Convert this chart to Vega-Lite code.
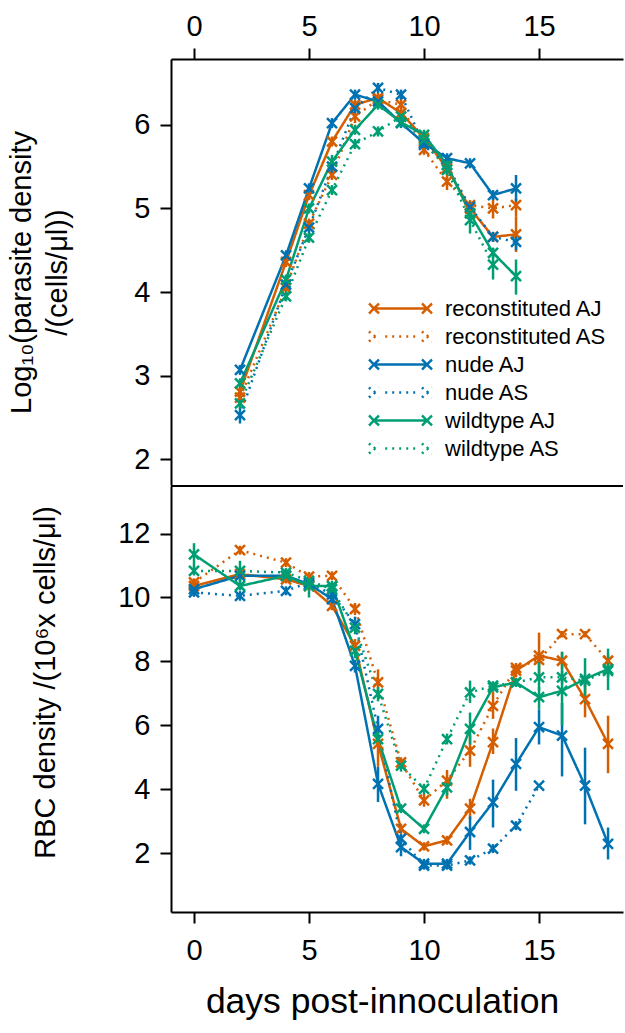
{
  "$schema": "https://vega.github.io/schema/vega-lite/v6.json",
  "background": "white",
  "padding": {"left": 7, "top": 12, "right": 0, "bottom": 0},
  "spacing": 0,
  "config": {
    "view": {"stroke": null},
    "font": "Liberation Sans",
    "axis": {
      "grid": false, "domainColor": "black", "domainWidth": 2, "tickColor": "black", "tickWidth": 2, "tickSize": 11,
      "labelFontSize": 29, "titleFontSize": 29, "titleFontWeight": "normal", "labelColor": "black", "titleColor": "black",
      "labelFont": "Liberation Sans", "titleFont": "Liberation Sans"
    },
    "legend": {"labelFont": "Liberation Sans"}
  },
  "resolve": {"legend": {"color": "independent", "strokeDash": "independent"}},
  "datasets": {
    "para": [
      {"day": 2, "group": "reconstituted AJ", "v": 2.81, "lo": 2.75, "hi": 2.87},
      {"day": 4, "group": "reconstituted AJ", "v": 4.36, "lo": 4.3, "hi": 4.42},
      {"day": 5, "group": "reconstituted AJ", "v": 5.16, "lo": 5.1, "hi": 5.22},
      {"day": 6, "group": "reconstituted AJ", "v": 5.8, "lo": 5.74, "hi": 5.86},
      {"day": 7, "group": "reconstituted AJ", "v": 6.24, "lo": 6.18, "hi": 6.3},
      {"day": 8, "group": "reconstituted AJ", "v": 6.32, "lo": 6.26, "hi": 6.38},
      {"day": 9, "group": "reconstituted AJ", "v": 6.14, "lo": 6.08, "hi": 6.2},
      {"day": 10, "group": "reconstituted AJ", "v": 5.84, "lo": 5.78, "hi": 5.9},
      {"day": 11, "group": "reconstituted AJ", "v": 5.48, "lo": 5.4, "hi": 5.56},
      {"day": 12, "group": "reconstituted AJ", "v": 5.0, "lo": 4.92, "hi": 5.08},
      {"day": 13, "group": "reconstituted AJ", "v": 4.66, "lo": 4.6, "hi": 4.72},
      {"day": 14, "group": "reconstituted AJ", "v": 4.69, "lo": 4.48, "hi": 4.9},
      {"day": 2, "group": "reconstituted AS", "v": 2.74, "lo": 2.68, "hi": 2.8},
      {"day": 4, "group": "reconstituted AS", "v": 4.05, "lo": 3.99, "hi": 4.11},
      {"day": 5, "group": "reconstituted AS", "v": 4.82, "lo": 4.76, "hi": 4.88},
      {"day": 6, "group": "reconstituted AS", "v": 5.4, "lo": 5.34, "hi": 5.46},
      {"day": 7, "group": "reconstituted AS", "v": 6.1, "lo": 6.02, "hi": 6.18},
      {"day": 8, "group": "reconstituted AS", "v": 6.3, "lo": 6.24, "hi": 6.36},
      {"day": 9, "group": "reconstituted AS", "v": 6.24, "lo": 6.16, "hi": 6.32},
      {"day": 10, "group": "reconstituted AS", "v": 5.7, "lo": 5.64, "hi": 5.76},
      {"day": 11, "group": "reconstituted AS", "v": 5.32, "lo": 5.22, "hi": 5.42},
      {"day": 12, "group": "reconstituted AS", "v": 5.04, "lo": 4.98, "hi": 5.1},
      {"day": 13, "group": "reconstituted AS", "v": 5.0, "lo": 4.88, "hi": 5.12},
      {"day": 14, "group": "reconstituted AS", "v": 5.04, "lo": 4.9, "hi": 5.12},
      {"day": 2, "group": "nude AJ", "v": 3.07, "lo": 3.01, "hi": 3.13},
      {"day": 4, "group": "nude AJ", "v": 4.44, "lo": 4.38, "hi": 4.5},
      {"day": 5, "group": "nude AJ", "v": 5.24, "lo": 5.18, "hi": 5.3},
      {"day": 6, "group": "nude AJ", "v": 6.02, "lo": 5.96, "hi": 6.08},
      {"day": 7, "group": "nude AJ", "v": 6.36, "lo": 6.3, "hi": 6.42},
      {"day": 8, "group": "nude AJ", "v": 6.28, "lo": 6.22, "hi": 6.34},
      {"day": 9, "group": "nude AJ", "v": 6.02, "lo": 5.96, "hi": 6.08},
      {"day": 10, "group": "nude AJ", "v": 5.78, "lo": 5.72, "hi": 5.84},
      {"day": 11, "group": "nude AJ", "v": 5.6, "lo": 5.54, "hi": 5.66},
      {"day": 12, "group": "nude AJ", "v": 5.54, "lo": 5.48, "hi": 5.6},
      {"day": 13, "group": "nude AJ", "v": 5.16, "lo": 5.1, "hi": 5.22},
      {"day": 14, "group": "nude AJ", "v": 5.24, "lo": 5.08, "hi": 5.4},
      {"day": 2, "group": "nude AS", "v": 2.53, "lo": 2.43, "hi": 2.63},
      {"day": 4, "group": "nude AS", "v": 4.09, "lo": 4.03, "hi": 4.15},
      {"day": 5, "group": "nude AS", "v": 4.77, "lo": 4.69, "hi": 4.85},
      {"day": 6, "group": "nude AS", "v": 5.5, "lo": 5.42, "hi": 5.58},
      {"day": 7, "group": "nude AS", "v": 6.2, "lo": 6.14, "hi": 6.26},
      {"day": 8, "group": "nude AS", "v": 6.44, "lo": 6.38, "hi": 6.5},
      {"day": 9, "group": "nude AS", "v": 6.36, "lo": 6.3, "hi": 6.42},
      {"day": 10, "group": "nude AS", "v": 5.76, "lo": 5.7, "hi": 5.82},
      {"day": 11, "group": "nude AS", "v": 5.52, "lo": 5.46, "hi": 5.58},
      {"day": 12, "group": "nude AS", "v": 5.02, "lo": 4.96, "hi": 5.08},
      {"day": 13, "group": "nude AS", "v": 4.66, "lo": 4.6, "hi": 4.72},
      {"day": 14, "group": "nude AS", "v": 4.6, "lo": 4.5, "hi": 4.7},
      {"day": 2, "group": "wildtype AJ", "v": 2.91, "lo": 2.85, "hi": 2.97},
      {"day": 4, "group": "wildtype AJ", "v": 4.15, "lo": 4.09, "hi": 4.21},
      {"day": 5, "group": "wildtype AJ", "v": 5.0, "lo": 4.94, "hi": 5.06},
      {"day": 6, "group": "wildtype AJ", "v": 5.56, "lo": 5.48, "hi": 5.64},
      {"day": 7, "group": "wildtype AJ", "v": 5.94, "lo": 5.88, "hi": 6.0},
      {"day": 8, "group": "wildtype AJ", "v": 6.24, "lo": 6.18, "hi": 6.3},
      {"day": 9, "group": "wildtype AJ", "v": 6.03, "lo": 5.97, "hi": 6.09},
      {"day": 10, "group": "wildtype AJ", "v": 5.88, "lo": 5.82, "hi": 5.94},
      {"day": 11, "group": "wildtype AJ", "v": 5.52, "lo": 5.44, "hi": 5.6},
      {"day": 12, "group": "wildtype AJ", "v": 4.94, "lo": 4.86, "hi": 5.02},
      {"day": 13, "group": "wildtype AJ", "v": 4.47, "lo": 4.41, "hi": 4.53},
      {"day": 14, "group": "wildtype AJ", "v": 4.19, "lo": 3.97, "hi": 4.39},
      {"day": 2, "group": "wildtype AS", "v": 2.67, "lo": 2.61, "hi": 2.73},
      {"day": 4, "group": "wildtype AS", "v": 3.95, "lo": 3.89, "hi": 4.01},
      {"day": 5, "group": "wildtype AS", "v": 4.65, "lo": 4.59, "hi": 4.71},
      {"day": 6, "group": "wildtype AS", "v": 5.22, "lo": 5.16, "hi": 5.28},
      {"day": 7, "group": "wildtype AS", "v": 5.77, "lo": 5.71, "hi": 5.83},
      {"day": 8, "group": "wildtype AS", "v": 5.92, "lo": 5.86, "hi": 5.98},
      {"day": 9, "group": "wildtype AS", "v": 6.1, "lo": 6.04, "hi": 6.16},
      {"day": 10, "group": "wildtype AS", "v": 5.82, "lo": 5.76, "hi": 5.88},
      {"day": 11, "group": "wildtype AS", "v": 5.46, "lo": 5.4, "hi": 5.52},
      {"day": 12, "group": "wildtype AS", "v": 4.86, "lo": 4.7, "hi": 5.0},
      {"day": 13, "group": "wildtype AS", "v": 4.33, "lo": 4.15, "hi": 4.53}
    ],
    "rbc": [
      {"day": 0, "group": "reconstituted AJ", "v": 10.36, "lo": 10.22, "hi": 10.5},
      {"day": 2, "group": "reconstituted AJ", "v": 10.73, "lo": 10.6, "hi": 10.86},
      {"day": 4, "group": "reconstituted AJ", "v": 10.57, "lo": 10.44, "hi": 10.7},
      {"day": 5, "group": "reconstituted AJ", "v": 10.36, "lo": 10.22, "hi": 10.5},
      {"day": 6, "group": "reconstituted AJ", "v": 9.74, "lo": 9.6, "hi": 9.88},
      {"day": 7, "group": "reconstituted AJ", "v": 8.49, "lo": 8.3, "hi": 8.7},
      {"day": 8, "group": "reconstituted AJ", "v": 5.42, "lo": 4.7, "hi": 6.1},
      {"day": 9, "group": "reconstituted AJ", "v": 2.76, "lo": 2.6, "hi": 2.92},
      {"day": 10, "group": "reconstituted AJ", "v": 2.21, "lo": 2.08, "hi": 2.34},
      {"day": 11, "group": "reconstituted AJ", "v": 2.4, "lo": 2.26, "hi": 2.54},
      {"day": 12, "group": "reconstituted AJ", "v": 3.39, "lo": 3.05, "hi": 3.7},
      {"day": 13, "group": "reconstituted AJ", "v": 5.47, "lo": 5.1, "hi": 5.9},
      {"day": 14, "group": "reconstituted AJ", "v": 7.71, "lo": 7.5, "hi": 7.9},
      {"day": 15, "group": "reconstituted AJ", "v": 8.18, "lo": 7.5, "hi": 8.9},
      {"day": 16, "group": "reconstituted AJ", "v": 8.02, "lo": 7.75, "hi": 8.3},
      {"day": 17, "group": "reconstituted AJ", "v": 6.82, "lo": 6.25, "hi": 7.4},
      {"day": 18, "group": "reconstituted AJ", "v": 5.42, "lo": 4.5, "hi": 6.3},
      {"day": 0, "group": "reconstituted AS", "v": 10.47, "lo": 10.34, "hi": 10.6},
      {"day": 2, "group": "reconstituted AS", "v": 11.48, "lo": 11.34, "hi": 11.62},
      {"day": 4, "group": "reconstituted AS", "v": 11.09, "lo": 10.95, "hi": 11.23},
      {"day": 5, "group": "reconstituted AS", "v": 10.65, "lo": 10.5, "hi": 10.8},
      {"day": 6, "group": "reconstituted AS", "v": 10.68, "lo": 10.54, "hi": 10.82},
      {"day": 7, "group": "reconstituted AS", "v": 9.64, "lo": 9.45, "hi": 9.83},
      {"day": 8, "group": "reconstituted AS", "v": 7.34, "lo": 6.9, "hi": 7.75},
      {"day": 9, "group": "reconstituted AS", "v": 4.84, "lo": 4.65, "hi": 5.0},
      {"day": 10, "group": "reconstituted AS", "v": 3.65, "lo": 3.45, "hi": 3.85},
      {"day": 11, "group": "reconstituted AS", "v": 4.27, "lo": 3.7, "hi": 4.6},
      {"day": 12, "group": "reconstituted AS", "v": 5.21, "lo": 4.7, "hi": 5.7},
      {"day": 13, "group": "reconstituted AS", "v": 6.61, "lo": 6.2, "hi": 7.05},
      {"day": 14, "group": "reconstituted AS", "v": 7.8, "lo": 7.65, "hi": 7.95},
      {"day": 15, "group": "reconstituted AS", "v": 8.05, "lo": 7.9, "hi": 8.2},
      {"day": 16, "group": "reconstituted AS", "v": 8.85, "lo": 8.75, "hi": 8.95},
      {"day": 17, "group": "reconstituted AS", "v": 8.85, "lo": 8.75, "hi": 8.95},
      {"day": 18, "group": "reconstituted AS", "v": 8.02, "lo": 7.85, "hi": 8.2},
      {"day": 0, "group": "nude AJ", "v": 10.26, "lo": 10.1, "hi": 10.42},
      {"day": 2, "group": "nude AJ", "v": 10.68, "lo": 10.5, "hi": 10.86},
      {"day": 4, "group": "nude AJ", "v": 10.68, "lo": 10.55, "hi": 10.81},
      {"day": 5, "group": "nude AJ", "v": 10.42, "lo": 10.28, "hi": 10.56},
      {"day": 6, "group": "nude AJ", "v": 9.95, "lo": 9.8, "hi": 10.1},
      {"day": 7, "group": "nude AJ", "v": 7.86, "lo": 7.65, "hi": 8.05},
      {"day": 8, "group": "nude AJ", "v": 4.17, "lo": 3.6, "hi": 4.7},
      {"day": 9, "group": "nude AJ", "v": 2.19, "lo": 1.9, "hi": 2.5},
      {"day": 10, "group": "nude AJ", "v": 1.67, "lo": 1.52, "hi": 1.82},
      {"day": 11, "group": "nude AJ", "v": 1.67, "lo": 1.52, "hi": 1.82},
      {"day": 12, "group": "nude AJ", "v": 2.66, "lo": 2.1, "hi": 3.15},
      {"day": 13, "group": "nude AJ", "v": 3.59, "lo": 2.8, "hi": 4.3},
      {"day": 14, "group": "nude AJ", "v": 4.79, "lo": 3.95, "hi": 5.6},
      {"day": 15, "group": "nude AJ", "v": 5.94, "lo": 5.4, "hi": 6.5},
      {"day": 16, "group": "nude AJ", "v": 5.68, "lo": 4.4, "hi": 6.7},
      {"day": 17, "group": "nude AJ", "v": 4.11, "lo": 2.9, "hi": 5.3},
      {"day": 18, "group": "nude AJ", "v": 2.29, "lo": 1.8, "hi": 2.8},
      {"day": 0, "group": "nude AS", "v": 10.16, "lo": 10.02, "hi": 10.3},
      {"day": 2, "group": "nude AS", "v": 10.05, "lo": 9.9, "hi": 10.2},
      {"day": 4, "group": "nude AS", "v": 10.21, "lo": 10.07, "hi": 10.35},
      {"day": 5, "group": "nude AS", "v": 10.47, "lo": 10.33, "hi": 10.61},
      {"day": 6, "group": "nude AS", "v": 10.1, "lo": 9.96, "hi": 10.24},
      {"day": 7, "group": "nude AS", "v": 9.17, "lo": 8.95, "hi": 9.4},
      {"day": 8, "group": "nude AS", "v": 5.89, "lo": 5.5, "hi": 6.3},
      {"day": 9, "group": "nude AS", "v": 2.45, "lo": 2.3, "hi": 2.6},
      {"day": 10, "group": "nude AS", "v": 1.61, "lo": 1.48, "hi": 1.74},
      {"day": 11, "group": "nude AS", "v": 1.61, "lo": 1.48, "hi": 1.74},
      {"day": 12, "group": "nude AS", "v": 1.77, "lo": 1.64, "hi": 1.9},
      {"day": 13, "group": "nude AS", "v": 2.14, "lo": 2.0, "hi": 2.28},
      {"day": 14, "group": "nude AS", "v": 2.86, "lo": 2.72, "hi": 3.0},
      {"day": 15, "group": "nude AS", "v": 4.11, "lo": 4.1, "hi": 4.12},
      {"day": 0, "group": "wildtype AJ", "v": 11.35, "lo": 10.95, "hi": 11.7},
      {"day": 2, "group": "wildtype AJ", "v": 10.36, "lo": 10.22, "hi": 10.5},
      {"day": 4, "group": "wildtype AJ", "v": 10.68, "lo": 10.54, "hi": 10.82},
      {"day": 5, "group": "wildtype AJ", "v": 10.36, "lo": 10.0, "hi": 10.7},
      {"day": 6, "group": "wildtype AJ", "v": 10.36, "lo": 10.2, "hi": 10.52},
      {"day": 7, "group": "wildtype AJ", "v": 8.33, "lo": 8.1, "hi": 8.55},
      {"day": 8, "group": "wildtype AJ", "v": 5.57, "lo": 5.35, "hi": 5.8},
      {"day": 9, "group": "wildtype AJ", "v": 3.39, "lo": 3.25, "hi": 3.53},
      {"day": 10, "group": "wildtype AJ", "v": 2.76, "lo": 2.62, "hi": 2.9},
      {"day": 11, "group": "wildtype AJ", "v": 4.06, "lo": 3.8, "hi": 4.3},
      {"day": 12, "group": "wildtype AJ", "v": 5.89, "lo": 5.4, "hi": 6.4},
      {"day": 13, "group": "wildtype AJ", "v": 7.19, "lo": 7.05, "hi": 7.33},
      {"day": 14, "group": "wildtype AJ", "v": 7.34, "lo": 7.2, "hi": 7.48},
      {"day": 15, "group": "wildtype AJ", "v": 6.88, "lo": 6.5, "hi": 7.2},
      {"day": 16, "group": "wildtype AJ", "v": 7.08, "lo": 6.0, "hi": 8.3},
      {"day": 17, "group": "wildtype AJ", "v": 7.45, "lo": 6.7, "hi": 8.1},
      {"day": 18, "group": "wildtype AJ", "v": 7.76, "lo": 7.1, "hi": 8.4},
      {"day": 0, "group": "wildtype AS", "v": 10.83, "lo": 10.69, "hi": 10.97},
      {"day": 2, "group": "wildtype AS", "v": 10.83, "lo": 10.45, "hi": 11.15},
      {"day": 4, "group": "wildtype AS", "v": 10.78, "lo": 10.64, "hi": 10.92},
      {"day": 5, "group": "wildtype AS", "v": 10.52, "lo": 10.38, "hi": 10.66},
      {"day": 6, "group": "wildtype AS", "v": 10.26, "lo": 10.12, "hi": 10.4},
      {"day": 7, "group": "wildtype AS", "v": 9.06, "lo": 8.85, "hi": 9.27},
      {"day": 8, "group": "wildtype AS", "v": 6.98, "lo": 6.75, "hi": 7.2},
      {"day": 9, "group": "wildtype AS", "v": 4.74, "lo": 4.55, "hi": 4.93},
      {"day": 10, "group": "wildtype AS", "v": 4.01, "lo": 3.85, "hi": 4.17},
      {"day": 11, "group": "wildtype AS", "v": 5.57, "lo": 5.4, "hi": 5.74},
      {"day": 12, "group": "wildtype AS", "v": 7.03, "lo": 6.7, "hi": 7.4},
      {"day": 13, "group": "wildtype AS", "v": 7.24, "lo": 7.1, "hi": 7.38},
      {"day": 14, "group": "wildtype AS", "v": 7.34, "lo": 7.2, "hi": 7.48},
      {"day": 15, "group": "wildtype AS", "v": 7.5, "lo": 7.1, "hi": 8.0},
      {"day": 16, "group": "wildtype AS", "v": 7.5, "lo": 7.3, "hi": 7.7},
      {"day": 17, "group": "wildtype AS", "v": 7.4, "lo": 7.2, "hi": 7.6},
      {"day": 18, "group": "wildtype AS", "v": 7.7, "lo": 7.5, "hi": 7.9}
    ]
  },
  "vconcat": [
    {
      "width": 452,
      "height": 426,
      "data": {"name": "para"},
      "encoding": {
        "x": {"field": "day", "type": "quantitative", "scale": {"domain": [-1, 18.65], "nice": false, "zero": false},
              "axis": {"orient": "top", "values": [0, 5, 10, 15], "title": null, "labelPadding": 7}},
        "color": {"field": "group", "type": "nominal",
          "scale": {"domain": ["reconstituted AJ", "reconstituted AS", "nude AJ", "nude AS", "wildtype AJ", "wildtype AS"],
                    "range": ["#D55E00", "#D55E00", "#0072B2", "#0072B2", "#009E73", "#009E73"]},
          "legend": {"title": null, "orient": "none", "legendX": 218, "legendY": 238, "padding": 0, "labelFontSize": 22, "labelColor": "black", "labelLimit": 400,
                     "symbolType": "M-2.65,0H2.65M-3.15,-0.5L-2.15,0.5M-3.15,0.5L-2.15,-0.5M2.15,-0.5L3.15,0.5M2.15,0.5L3.15,-0.5",
                     "symbolSize": 400, "symbolStrokeWidth": 2.5, "labelOffset": 33, "rowPadding": 5, "symbolFillColor": "transparent",
                     "encode": {"symbols": {"update": {"shape": {"signal": "indexof(datum.value, 'AS') >= 0 ? 'M-3.15,-0.5L-2.15,0.5M-3.15,0.5L-2.15,-0.5M2.15,-0.5L3.15,0.5M2.15,0.5L3.15,-0.5M-1.53,0H-1.27M-0.83,0H-0.57M-0.13,0H0.13M0.57,0H0.83M1.27,0H1.53' : 'M-2.65,0H2.65M-3.15,-0.5L-2.15,0.5M-3.15,0.5L-2.15,-0.5M2.15,-0.5L3.15,0.5M2.15,0.5L3.15,-0.5'"}}}}}}
      },
      "layer": [
        {"mark": {"type": "rule", "strokeWidth": 2.5},
         "encoding": {"y": {"field": "lo", "type": "quantitative"}, "y2": {"field": "hi"}}},
        {"mark": {"type": "line", "strokeWidth": 2.5},
         "encoding": {
           "y": {"field": "v", "type": "quantitative", "scale": {"domain": [1.695, 6.786], "nice": false, "zero": false},
                 "axis": {"values": [2, 3, 4, 5, 6], "format": "d", "title": ["Log₁₀(parasite density", "/(cells/μl))"], "labelPadding": 10, "titlePadding": 61, "titleLineHeight": 36}},
           "strokeDash": {"field": "group", "type": "nominal",
             "scale": {"domain": ["reconstituted AJ", "reconstituted AS", "nude AJ", "nude AS", "wildtype AJ", "wildtype AS"],
                       "range": [[1, 0], [2, 5], [1, 0], [2, 5], [1, 0], [2, 5]]},
             "legend": null}
         }},
        {"mark": {"type": "point", "shape": "M-1,-1L1,1M-1,1L1,-1", "size": 100, "filled": false, "strokeWidth": 2.5, "opacity": 1},
         "encoding": {"y": {"field": "v", "type": "quantitative"}}}
      ]
    },
    {
      "width": 452,
      "height": 426,
      "layer": [
        {
          "data": {"name": "rbc"},
          "encoding": {
            "x": {"field": "day", "type": "quantitative", "scale": {"domain": [-1, 18.65], "nice": false, "zero": false},
                  "axis": {"orient": "bottom", "values": [0, 5, 10, 15], "title": "days post-innoculation", "titleFontSize": 35.5, "titleX": 211, "labelPadding": 13, "titlePadding": 19}},
            "color": {"field": "group", "type": "nominal",
              "scale": {"domain": ["reconstituted AJ", "reconstituted AS", "nude AJ", "nude AS", "wildtype AJ", "wildtype AS"],
                        "range": ["#D55E00", "#D55E00", "#0072B2", "#0072B2", "#009E73", "#009E73"]},
              "legend": null}
          },
          "layer": [
            {"mark": {"type": "rule", "strokeWidth": 2.5},
             "encoding": {"y": {"field": "lo", "type": "quantitative"}, "y2": {"field": "hi"}}},
            {"mark": {"type": "line", "strokeWidth": 2.5},
             "encoding": {
               "y": {"field": "v", "type": "quantitative", "scale": {"domain": [0.156, 13.49], "nice": false, "zero": false},
                     "axis": {"values": [2, 4, 6, 8, 10, 12], "format": "d", "title": "RBC density /(10⁶x cells/μl)", "labelPadding": 10, "titlePadding": 57, "titleY": 196}},
               "strokeDash": {"field": "group", "type": "nominal",
                 "scale": {"domain": ["reconstituted AJ", "reconstituted AS", "nude AJ", "nude AS", "wildtype AJ", "wildtype AS"],
                           "range": [[1, 0], [2, 5], [1, 0], [2, 5], [1, 0], [2, 5]]},
                 "legend": null}
             }},
            {"mark": {"type": "point", "shape": "M-1,-1L1,1M-1,1L1,-1", "size": 100, "filled": false, "strokeWidth": 2.5, "opacity": 1},
             "encoding": {"y": {"field": "v", "type": "quantitative"}}}
          ]
        },
        {
          "data": {"values": [{"edge": 13.49}]},
          "mark": {"type": "rule", "strokeWidth": 2, "color": "black"},
          "encoding": {"y": {"field": "edge", "type": "quantitative"}}
        }
      ]
    }
  ]
}
